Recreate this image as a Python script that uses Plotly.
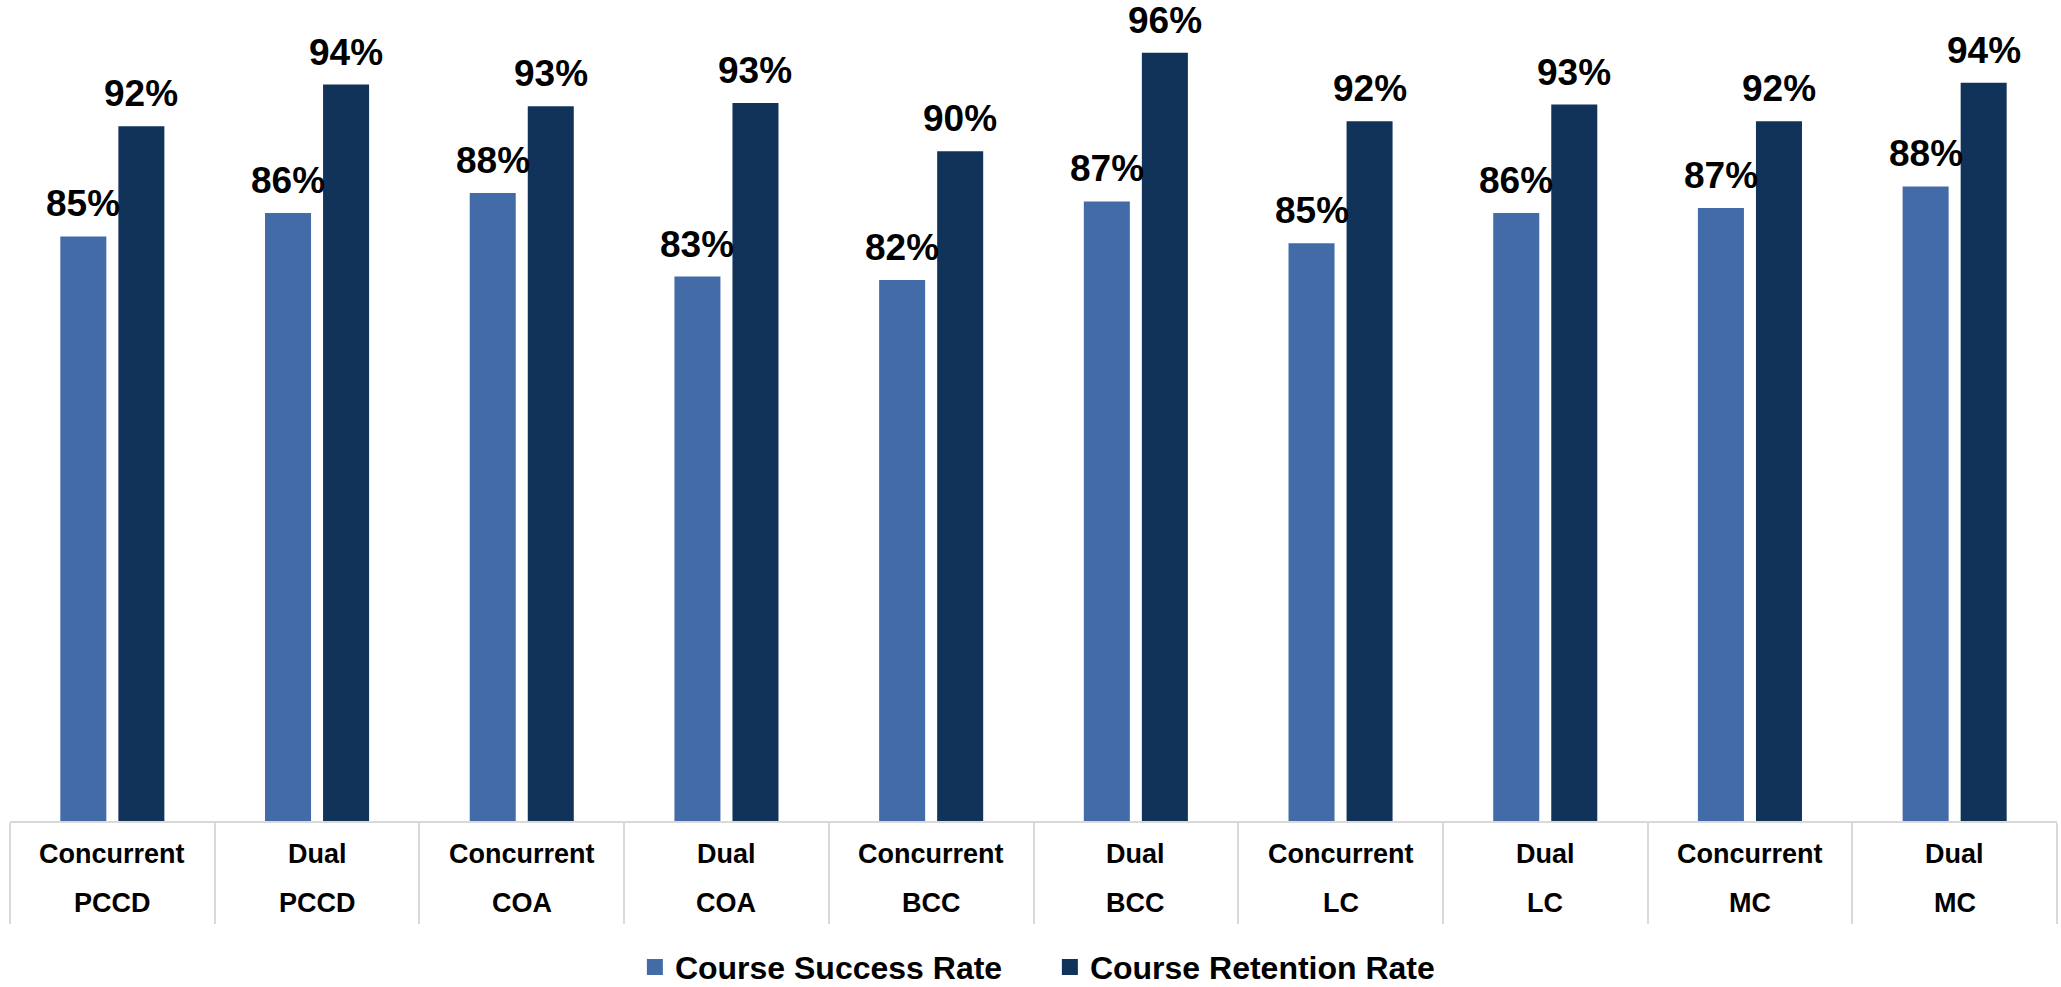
import plotly.graph_objects as go

# Course outcomes by enrollment type and college
modes = ["Concurrent", "Dual", "Concurrent", "Dual", "Concurrent",
         "Dual", "Concurrent", "Dual", "Concurrent", "Dual"]
colleges = ["PCCD", "PCCD", "COA", "COA", "BCC", "BCC", "LC", "LC", "MC", "MC"]
success_rate = [0.850, 0.864, 0.876, 0.826, 0.824, 0.871, 0.846, 0.864, 0.867, 0.880]
retention_rate = [0.916, 0.941, 0.928, 0.930, 0.901, 0.960, 0.919, 0.929, 0.919, 0.942]
series_names = ["Course Success Rate", "Course Retention Rate"]

LIGHT = "#436BA8"
DARK = "#123359"
GRID = "#D9D9D9"
FONT = "Liberation Sans, Arial, sans-serif"

BARGAP = 0.433
BARGROUPGAP = 0.207

categories = [f"{m} {c}" for m, c in zip(modes, colleges)]
series = [(series_names[0], success_rate, LIGHT),
          (series_names[1], retention_rate, DARK)]

fig = go.Figure()
for name, vals, col in series:
    fig.add_trace(go.Bar(
        x=categories, y=vals, name=name, marker_color=col,
        marker_line_width=0, showlegend=False,
    ))
    # legend key
    fig.add_trace(go.Scatter(
        x=[None], y=[None], mode="markers", name=name,
        marker=dict(symbol="square", size=16, color=col),
    ))

# value labels centred over each bar of the group
slot = (1 - BARGAP) / len(series)
for k, (name, vals, col) in enumerate(series):
    dx = (k - (len(series) - 1) / 2) * slot
    for i, v in enumerate(vals):
        fig.add_annotation(
            x=i + dx, xref="x", y=v, yref="y", yanchor="bottom", yshift=10,
            text=f"{v:.0%}", showarrow=False,
            font=dict(family=FONT, size=37, color="black", weight="bold"),
        )

# two-row category labels inside the axis table
for cat, m, c in zip(categories, modes, colleges):
    for text, shift in [(m, -33), (c, -82)]:
        fig.add_annotation(
            x=cat, xref="x", y=0, yref="paper", yanchor="middle",
            yshift=shift, text=text, showarrow=False,
            font=dict(family=FONT, size=27, color="black", weight="bold"),
        )

fig.update_layout(
    width=2061, height=987,
    margin=dict(l=10, r=4, t=0, b=166, autoexpand=False),
    paper_bgcolor="white", plot_bgcolor="white",
    barmode="group", bargap=BARGAP, bargroupgap=BARGROUPGAP,
    legend=dict(
        orientation="h", x=0.508, xanchor="center", y=-0.178, yanchor="middle",
        font=dict(family=FONT, size=32, color="black", weight="bold"),
        entrywidth=370, entrywidthmode="pixels",
        itemclick=False, itemdoubleclick=False,
    ),
    xaxis=dict(
        range=[-0.5, 9.5], showticklabels=False,
        showline=True, linecolor=GRID, linewidth=2,
        ticks="outside", tickson="boundaries", ticklen=101,
        tickcolor=GRID, tickwidth=2, showgrid=False, zeroline=False,
    ),
    yaxis=dict(
        range=[0.5, 0.9916], visible=False, showgrid=False, zeroline=False,
    ),
)

fig.write_html("out.html")
